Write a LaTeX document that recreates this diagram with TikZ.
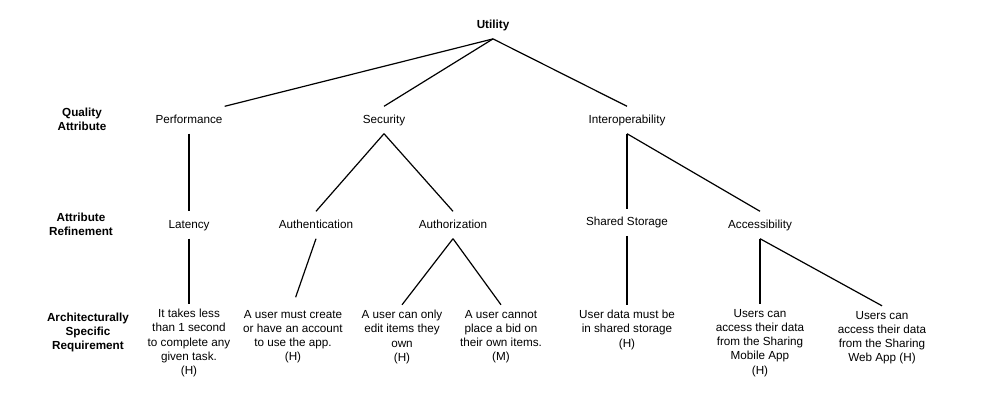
\documentclass[tikz,border=0pt]{standalone}
\usepackage{fontspec}
\setmainfont{Liberation Sans}

\begin{document}
\begin{tikzpicture}[x=1pt,y=-1pt,
  attr/.style={font=\fontsize{11.7pt}{14.3pt}\selectfont,text height=8.5pt,text depth=2.5pt,inner ysep=8pt,inner xsep=2pt,anchor=base},
  req/.style={font=\fontsize{11.7pt}{14.3pt}\selectfont,align=center,inner ysep=5pt,anchor=north},
  rowlabel/.style={font=\fontsize{11.7pt}{14.3pt}\selectfont\bfseries,align=center,inner sep=0pt,anchor=north},
  edge/.style={line width=1.2pt}]
\useasboundingbox (0,0) rectangle (999,404);

% row labels
\node[rowlabel] (qa) at (82,108) {Quality\\Attribute};
\node[rowlabel] (ar) at (81,213) {Attribute\\Refinement};
\node[rowlabel] (asr) at (88,312.5) {Architecturally\\Specific\\Requirement};

% tree
\node[attr] (util) at (493,28.2) {\bfseries Utility};
\node[attr] (perf) at (189,123) {Performance};
\node[attr] (sec) at (384,123) {Security};
\node[attr] (inter) at (627,123) {Interoperability};

\node[attr] (lat) at (189,228) {Latency};
\node[attr] (authn) at (316,228) {Authentication};
\node[attr] (authz) at (453,228) {Authorization};
\node[attr] (store) at (627,225.2) {Shared Storage};
\node[attr] (access) at (760,228) {Accessibility};

\node[req] (r1) at (189,303.8) {It takes less\\than 1 second\\to complete any\\given task.\\(H)};
\node[req] (r2) at (293,304.8) {A user must create\\or have an account\\to use the app.\\(H)};
\node[req] (r3) at (402,304.8) {A user can only\\edit items they\\own\\(H)};
\node[req] (r4) at (501,304.8) {A user cannot\\place a bid on\\their own items.\\(M)};
\node[req] (r5) at (627,304.8) {User data must be\\in shared storage\\(H)};
\node[req] (r6) at (760,303.8) {Users can\\access their data\\from the Sharing\\Mobile App\\(H)};
\node[req] (r7) at (882,305.8) {Users can\\access their data\\from the Sharing\\Web App (H)};

\draw[edge] (util.south) -- (perf.north east);
\draw[edge] (util.south) -- (sec.north);
\draw[edge] (util.south) -- (inter.north);

\draw[edge] (perf.south) -- (lat.north);
\draw[edge] (sec.south) -- (authn.north);
\draw[edge] (sec.south) -- (authz.north);
\draw[edge] (inter.south) -- (store.north);
\draw[edge] (inter.south) -- (access.north);

\draw[edge] (lat.south) -- (r1.north);
\draw[edge,shorten >=8pt] (authn.south) -- (r2.north);
\draw[edge] (authz.south) -- (r3.north);
\draw[edge] (authz.south) -- (r4.north);
\draw[edge] (store.south) -- (r5.north);
\draw[edge] (access.south) -- (r6.north);
\draw[edge] (access.south) -- (r7.north);
\end{tikzpicture}
\end{document}
